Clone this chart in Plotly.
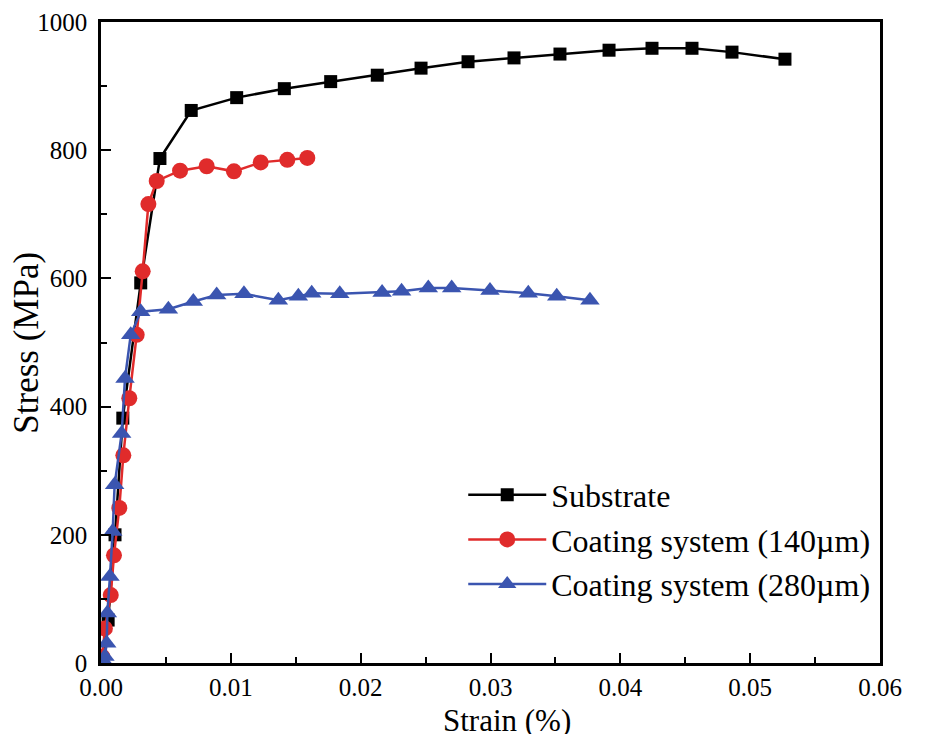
import plotly.graph_objects as go

substrate_x = [0.0, 0.00055, 0.00108, 0.00168, 0.00306, 0.00454, 0.00695, 0.01045, 0.01412,
               0.01769, 0.02128, 0.02465, 0.02827, 0.03181, 0.03535, 0.03913, 0.04244,
               0.04552, 0.0486, 0.05268]
substrate_y = [0, 67, 200, 382, 593, 787, 862, 882, 896, 907, 917, 928, 938, 944, 950,
               956, 959, 959, 953, 942]

c140_x = [0.0001, 0.0003, 0.00075, 0.001, 0.00141, 0.00172, 0.00218, 0.00275, 0.00321,
          0.00365, 0.00429, 0.00609, 0.00814, 0.01024, 0.0123, 0.01435, 0.01589]
c140_y = [10, 54, 106, 168, 242, 324, 413, 512, 611, 716, 752, 768, 775, 767, 781, 785, 788]

c280_x = [0.0002, 0.0003, 0.00044, 0.00049, 0.00069, 0.0009, 0.00105, 0.00159, 0.00185,
          0.00229, 0.00306, 0.00519, 0.00711, 0.00891, 0.01101, 0.01366, 0.0152, 0.01623,
          0.01839, 0.02165, 0.02315, 0.02521, 0.02701, 0.02996, 0.03291, 0.0351, 0.03766]
c280_y = [3, 10, 31, 78, 135, 205, 278, 358, 444, 512, 548, 552, 564, 574, 576, 566, 572,
          577, 576, 578, 580, 585, 585, 581, 577, 572, 566]

series_names = ["Substrate", "Coating system (140\u00b5m)", "Coating system (280\u00b5m)"]

FONT = "Liberation Serif"

fig = go.Figure()
fig.add_trace(go.Scatter(x=substrate_x, y=substrate_y, name=series_names[0], mode="lines+markers",
                         line=dict(color="black", width=2.5),
                         marker=dict(symbol="square", size=13, color="black")))
fig.add_trace(go.Scatter(x=c140_x, y=c140_y, name=series_names[1], mode="lines+markers",
                         line=dict(color="#e02b2b", width=2.5),
                         marker=dict(symbol="circle", size=16, color="#e02b2b")))
fig.add_trace(go.Scatter(x=c280_x, y=c280_y, name=series_names[2], mode="lines+markers",
                         line=dict(color="#3b55b0", width=2.5),
                         marker=dict(symbol="triangle-up", size=17, color="#3b55b0")))

axis_common = dict(showline=True, linecolor="black", linewidth=2.5, mirror=True,
                   ticks="inside", ticklen=10, tickwidth=2, tickcolor="black",
                   showgrid=False, zeroline=False, automargin=False)

fig.update_xaxes(range=[0, 0.06], dtick=0.01, tick0=0, tickformat=".2f",
                 tickfont=dict(family=FONT, size=25, color="black"), ticklabelstandoff=0,
                 minor=dict(ticks="inside", ticklen=6, tickwidth=2, tickcolor="black", dtick=0.005),
                 **axis_common)
fig.update_yaxes(range=[0, 1000], dtick=200, tick0=0,
                 tickfont=dict(family=FONT, size=25, color="black"), ticklabelstandoff=6,
                 minor=dict(ticks="inside", ticklen=6, tickwidth=2, tickcolor="black", dtick=100),
                 **axis_common)

fig.add_annotation(text="Strain (%)", xref="paper", yref="paper", x=0.521, y=0,
                   yshift=-41, xanchor="center", yanchor="top", showarrow=False,
                   height=28, valign="middle",
                   font=dict(family=FONT, size=31, color="black"))
fig.add_annotation(text="Stress (MPa)", xref="paper", yref="paper", x=-0.096, y=0.5,
                   xanchor="center", yanchor="middle", textangle=-90, showarrow=False,
                   font=dict(family=FONT, size=35, color="black"))

fig.update_layout(
    width=917, height=728,
    margin=dict(l=93, r=45, t=14, b=73, autoexpand=False),
    paper_bgcolor="white", plot_bgcolor="white",
    font=dict(family=FONT, color="black"),
    legend=dict(x=0.465, y=0.305, xanchor="left", yanchor="top",
                font=dict(family=FONT, size=32, color="black"),
                bgcolor="rgba(0,0,0,0)", tracegroupgap=0, itemwidth=78),
)

fig.write_html("out.html")
